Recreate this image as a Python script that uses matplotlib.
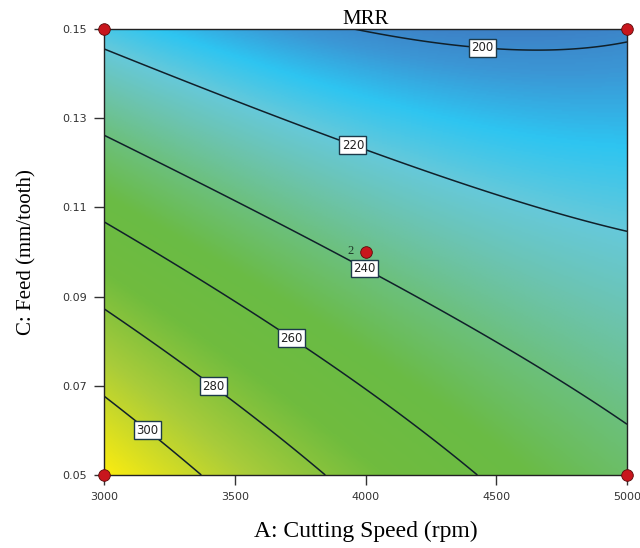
import numpy as np
import matplotlib
matplotlib.use("Agg")
import matplotlib.pyplot as plt
from matplotlib.colors import LinearSegmentedColormap, Normalize

# contour levels of MRR and points (A in rpm, C in mm/tooth)
levels = [200, 220, 240, 260, 280, 300]
trace_A = {
    200: [3902, 4449, 4598, 5000],
    220: [3000, 3500, 3955, 4407, 5000],
    240: [3000, 3688, 3998, 5000],
    260: [3000, 3721, 4419],
    280: [3000, 3424, 3837],
    300: [3000, 3172, 3367],
}
trace_C = {
    200: [0.150, 0.1465, 0.1448, 0.1473],
    220: [0.1456, 0.1346, 0.1245, 0.1138, 0.1045],
    240: [0.1262, 0.1049, 0.0967, 0.0620],
    260: [0.1065, 0.0809, 0.0500],
    280: [0.0870, 0.0704, 0.0500],
    300: [0.0673, 0.0605, 0.0500],
}
label_pos = [(4449, 0.1465), (3955, 0.1245), (4000, 0.0967),
             (3721, 0.0809), (3424, 0.0704), (3172, 0.0605)]

# design points
design_A = [3000, 5000, 3000, 5000, 4000]
design_C = [0.05, 0.05, 0.15, 0.15, 0.10]

# colour stops (MRR value, colour)
color_vals = [195, 203, 211, 220, 229, 240, 254, 272, 292, 318]
color_list = ["#3d78c0", "#3b98d6", "#2ec5f1", "#66c9da", "#6cc4b0", "#6cc07c",
              "#6abb45", "#70bc3e", "#a9cc3a", "#fbec10"]


def coded(A, C):
    a = (np.asarray(A, dtype=float) - 4000) / 1000
    c = (np.asarray(C, dtype=float) - 0.10) / 0.05
    return a, c


def design_matrix(a, c):
    return np.column_stack([np.ones_like(a), a, c, a * c, a * a, c * c])


# fit a quadratic response surface through the contour traces
pa, pc, pz = [], [], []
for lev in levels:
    a, c = coded(trace_A[lev], trace_C[lev])
    pa.extend(a)
    pc.extend(c)
    pz.extend([lev] * len(a))
pa, pc, pz = np.array(pa), np.array(pc), np.array(pz, dtype=float)
coef, *_ = np.linalg.lstsq(design_matrix(pa, pc), pz, rcond=None)

Ag = np.linspace(3000, 5000, 300)
Cg = np.linspace(0.05, 0.15, 300)
AA, CC = np.meshgrid(Ag, Cg)
ga, gc = coded(AA.ravel(), CC.ravel())
Z = (design_matrix(ga, gc) @ coef).reshape(AA.shape)

lo, hi = color_vals[0], color_vals[-1]
cmap = LinearSegmentedColormap.from_list(
    "de", [((v - lo) / (hi - lo), col) for v, col in zip(color_vals, color_list)])

fig = plt.figure(figsize=(6.4, 5.48), dpi=100)
ax = fig.add_axes([0.1625, 0.1332, 0.8172, 0.8139])

ax.imshow(Z, extent=[3000, 5000, 0.05, 0.15], origin="lower", aspect="auto",
          cmap=cmap, norm=Normalize(lo, hi), interpolation="bilinear")
cs = ax.contour(AA, CC, Z, levels=levels, colors="#10202a", linewidths=1.1)
labels = ax.clabel(cs, fmt="%d", inline=True, inline_spacing=2,
                   fontsize=8.5, manual=label_pos)
for t in labels:
    t.set_rotation(0)
    t.set_color("#222222")
    t.set_bbox(dict(boxstyle="square,pad=0.2", fc="white", ec="#1c3a4a", lw=1.0))

ax.scatter(design_A, design_C, s=70, c="#c8161d", edgecolors="#5a0a0a",
           linewidths=0.6, zorder=5, clip_on=False)
ax.text(3955, 0.1003, "2", fontsize=9, family="Liberation Serif",
        color="#1e3a2a", ha="right", va="center")

ax.set_xlim(3000, 5000)
ax.set_ylim(0.05, 0.15)
ax.set_xticks([3000, 3500, 4000, 4500, 5000])
ax.set_yticks([0.05, 0.07, 0.09, 0.11, 0.13, 0.15])
ax.set_yticklabels(["0.05", "0.07", "0.09", "0.11", "0.13", "0.15"])
ax.tick_params(direction="out", length=7, width=1, color="#333333",
               labelsize=8, labelcolor="#333333", pad=5)
for sp in ax.spines.values():
    sp.set_color("#222222")
    sp.set_linewidth(1)

ax.set_title("MRR", family="Liberation Serif", fontsize=15, pad=2)
ax.set_xlabel("A: Cutting Speed (rpm)", family="Liberation Serif", fontsize=17,
              labelpad=14)
ax.set_ylabel("C: Feed (mm/tooth)", family="Liberation Serif", fontsize=15,
              labelpad=19)

fig.savefig("out.png", dpi=100)
